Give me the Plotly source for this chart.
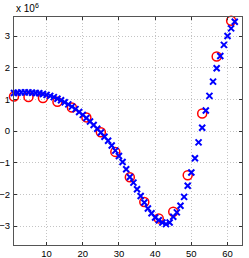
import plotly.graph_objects as go

# Sampled points (red circles), values in units of 1e6
circle_x = [1, 5, 9, 13, 17, 21, 25, 29, 33, 37, 41, 45, 49, 53, 57, 61]
circle_y = [1.09, 1.07, 1.04, 0.92, 0.74, 0.43, -0.04, -0.66, -1.46, -2.24,
            -2.76, -2.55, -1.40, 0.55, 2.35, 3.48]

# Dense points (blue crosses), values in units of 1e6
cross_x = list(range(1, 63))
cross_y = [1.20, 1.21, 1.22, 1.22, 1.22, 1.21, 1.20, 1.19, 1.17, 1.14,
           1.11, 1.07, 1.02, 0.97, 0.91, 0.84, 0.77, 0.69, 0.60, 0.51,
           0.41, 0.30, 0.19, 0.07, -0.05, -0.18, -0.31, -0.46, -0.62, -0.79,
           -0.98, -1.21, -1.45, -1.63, -1.84, -2.05, -2.26, -2.45, -2.60, -2.73,
           -2.82, -2.89, -2.94, -2.89, -2.71, -2.57, -2.36, -2.08, -1.73, -1.31,
           -0.86, -0.36, 0.10, 0.65, 1.11, 1.56, 1.98, 2.37, 2.72, 3.00,
           3.24, 3.45]

x_ticks = [10, 20, 30, 40, 50, 60]
y_ticks = [-3, -2, -1, 0, 1, 2, 3]

fig = go.Figure()
fig.add_trace(go.Scatter(
    x=circle_x, y=circle_y, mode="markers", cliponaxis=False,
    marker=dict(symbol="circle-open", size=9, color="#ff0000",
                line=dict(width=1.5, color="#ff0000")),
    showlegend=False))
fig.add_trace(go.Scatter(
    x=cross_x, y=cross_y, mode="markers", cliponaxis=False,
    marker=dict(symbol="x-thin-open", size=6, color="#0000ff",
                line=dict(width=2, color="#0000ff")),
    showlegend=False))

axis_common = dict(
    showline=True, linecolor="#555555", linewidth=1, mirror="ticks",
    ticks="inside", ticklen=3, tickcolor="#333333",
    showgrid=True, gridcolor="#c4c4c4", griddash="1px,2px", gridwidth=1,
    zeroline=False, automargin=False,
    tickfont=dict(family="Liberation Sans, Arial, sans-serif", size=9.5, color="#000000"),
)

fig.update_xaxes(range=[1, 64], tickvals=x_ticks, ticklabelstandoff=0, **axis_common)
fig.update_yaxes(range=[-3.6, 3.6], tickvals=y_ticks, ticklabelstandoff=1, **axis_common)

fig.add_annotation(
    text="x 10<sup>6</sup>", xref="paper", yref="paper", x=0, y=1,
    xanchor="left", yanchor="bottom", showarrow=False, yshift=1,
    font=dict(family="Liberation Sans, Arial, sans-serif", size=10, color="#000000"))

fig.update_layout(
    width=249, height=258,
    margin=dict(l=14, r=7, t=17, b=13, autoexpand=False),
    paper_bgcolor="white", plot_bgcolor="white",
)

fig.write_html("out.html", config={"displayModeBar": False},
               post_script="document.body.style.margin='0';")
